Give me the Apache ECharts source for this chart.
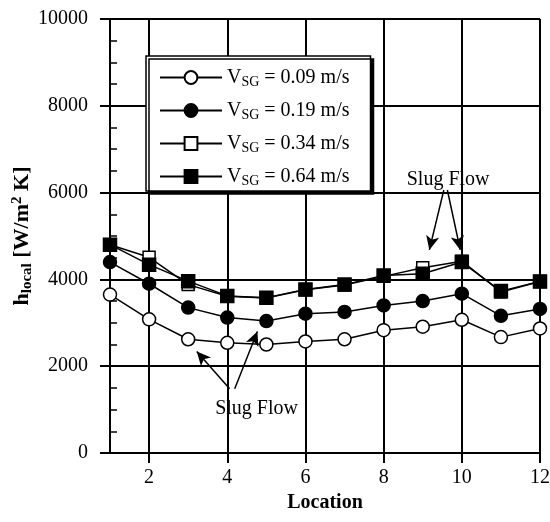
<!DOCTYPE html>
<html>
<head>
<meta charset="utf-8">
<script src="https://cdn.jsdelivr.net/npm/echarts@6/dist/echarts.min.js"></script>
<style>
  html, body { margin: 0; padding: 0; background: #fff; }
  #chart { width: 550px; height: 522px; }
</style>
</head>
<body>
<div id="chart"></div>
<script>
// data
var locations = [1, 2, 3, 4, 5, 6, 7, 8, 9, 10, 11, 12];
var vsg009 = [3650, 3080, 2620, 2540, 2500, 2570, 2620, 2830, 2910, 3070, 2670, 2870];
var vsg019 = [4400, 3900, 3350, 3120, 3040, 3210, 3250, 3400, 3500, 3670, 3160, 3320];
var vsg034 = [4800, 4510, 3880, 3610, 3570, 3760, 3870, 4070, 4270, 4420, 3710, 3950];
var vsg064 = [4800, 4340, 3960, 3620, 3580, 3770, 3880, 4090, 4130, 4400, 3730, 3950];
var seriesNames = ['0.09', '0.19', '0.34', '0.64'];
var xTicks = [2, 4, 6, 8, 10, 12];

var serif = 'Liberation Serif';

function pairs(ys) {
    return locations.map(function (x, i) { return [x, ys[i]]; });
}

function makeSeries(name, ys, symbol, fill, size, z) {
    return {
        name: name,
        type: 'line',
        data: pairs(ys),
        symbol: symbol,
        symbolSize: size,
        z: z,
        lineStyle: { color: '#000', width: 1.5 },
        itemStyle: { color: fill, borderColor: '#000', borderWidth: 1.5 },
        emphasis: { disabled: true },
        animation: false
    };
}

var series = [
    makeSeries(seriesNames[0], vsg009, 'circle', '#fff', 13, 2),
    makeSeries(seriesNames[1], vsg019, 'circle', '#000', 13, 3),
    makeSeries(seriesNames[2], vsg034, 'rect', '#fff', 12, 4),
    makeSeries(seriesNames[3], vsg064, 'rect', '#000', 13, 5)
];

// Slug Flow annotations
series[3].markLine = {
    silent: true,
    animation: false,
    symbol: ['none', 'arrow'],
    symbolSize: [10, 14],
    label: { show: false },
    lineStyle: { color: '#000', width: 1.5, type: 'solid' },
    data: [
        [{ coord: [4.06, 1480] }, { coord: [3.22, 2340] }],
        [{ coord: [4.19, 1480] }, { coord: [4.77, 2800] }],
        [{ coord: [9.54, 6060] }, { coord: [9.17, 4680] }],
        [{ coord: [9.63, 6060] }, { coord: [9.96, 4680] }]
    ]
};
series[3].markPoint = {
    silent: true,
    animation: false,
    symbol: 'circle',
    symbolSize: 0,
    label: {
        show: true,
        position: 'inside',
        formatter: 'Slug Flow',
        fontFamily: serif,
        fontSize: 20,
        color: '#000'
    },
    data: [
        { coord: [4.75, 1030] },
        { coord: [9.65, 6290] }
    ]
};

var option = {
    backgroundColor: '#fff',
    animation: false,
    grid: { left: 110, right: 10, top: 19, bottom: 69, outerBoundsMode: 'none', containLabel: false },
    legend: {
        orient: 'vertical',
        left: 146,
        top: 56,
        padding: [10, 21, 3, 13],
        itemWidth: 62,
        itemHeight: 16,
        itemGap: 10,
        backgroundColor: '#fff',
        borderColor: '#000',
        borderWidth: 1.5,
        shadowColor: '#000',
        shadowBlur: 0,
        shadowOffsetX: 3,
        shadowOffsetY: 3,
        selectedMode: false,
        data: seriesNames,
        formatter: function (name) {
            return '{v|V}{s|SG}{v| = ' + name + ' m/s}';
        },
        textStyle: {
            color: '#000',
            rich: {
                v: { fontFamily: serif, fontSize: 20, lineHeight: 22, color: '#000' },
                s: { fontFamily: serif, fontSize: 14, lineHeight: 14, padding: [9, 0, 0, 0], color: '#000' }
            }
        }
    },
    xAxis: {
        type: 'value',
        min: 1,
        max: 12,
        name: 'Location',
        nameLocation: 'middle',
        nameGap: 40,
        nameMoveOverlap: false,
        nameTextStyle: { fontFamily: serif, fontSize: 20, fontWeight: 'bold', color: '#000' },
        axisLine: { show: true, onZero: false, lineStyle: { color: '#000', width: 2 } },
        axisTick: { show: true, customValues: xTicks, length: 10, lineStyle: { color: '#000', width: 2 } },
        axisLabel: { customValues: xTicks, margin: 15, fontFamily: serif, fontSize: 20, color: '#000' },
        splitLine: { show: true, lineStyle: { color: '#000', width: 2 } }
    },
    yAxis: [{
        type: 'value',
        min: 0,
        max: 10000,
        interval: 2000,
        name: '{b|h}{s|local}{b| [W/m}{p|2}{b| K]}',
        nameLocation: 'middle',
        nameGap: 76,
        nameMoveOverlap: false,
        nameTextStyle: {
            color: '#000',
            rich: {
                b: { fontFamily: serif, fontSize: 22, fontWeight: 'bold', lineHeight: 24, color: '#000' },
                s: { fontFamily: serif, fontSize: 15, fontWeight: 'bold', lineHeight: 15, padding: [10, 0, 0, 0], color: '#000' },
                p: { fontFamily: serif, fontSize: 15, fontWeight: 'bold', lineHeight: 15, padding: [0, 0, 10, 0], color: '#000' }
            }
        },
        axisLine: { show: true, lineStyle: { color: '#000', width: 2 } },
        axisTick: { show: true, length: 10, lineStyle: { color: '#000', width: 2 } },
        axisLabel: {
            margin: 22,
            fontFamily: serif,
            fontSize: 20,
            color: '#000',
            formatter: function (v) { return String(v); }
        },
        splitLine: { show: true, lineStyle: { color: '#000', width: 2 } }
    }, {
        // overlay axis only for the inner minor ticks
        type: 'value',
        position: 'left',
        min: 0,
        max: 10000,
        interval: 2000,
        axisLine: { show: false },
        axisLabel: { show: false },
        axisTick: { show: false, inside: true },
        minorTick: { show: true, splitNumber: 4, length: 7, lineStyle: { color: '#000', width: 1.5 } },
        splitLine: { show: false }
    }],
    series: series
};

var chart = echarts.init(document.getElementById('chart'));
chart.setOption(option);
window.addEventListener('resize', function () {
    chart.resize();
});
</script>
</body>
</html>
